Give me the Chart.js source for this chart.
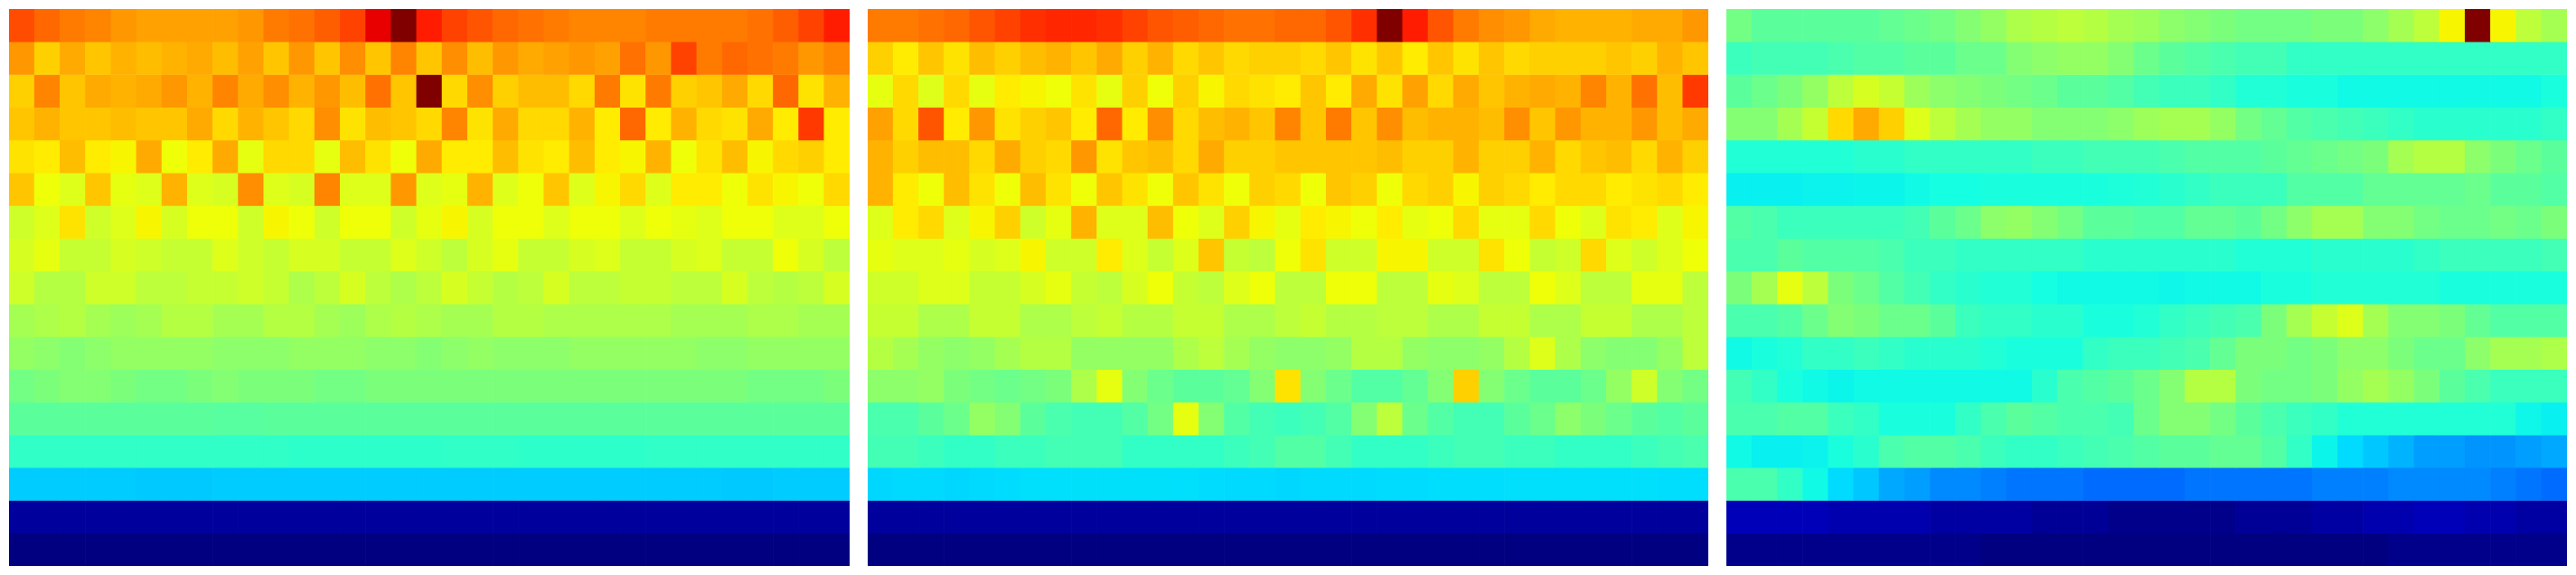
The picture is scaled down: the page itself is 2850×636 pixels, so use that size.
<!DOCTYPE html>
<html>
<head>
<meta charset="utf-8">
<title>Heatmaps</title>
<script src="https://cdn.jsdelivr.net/npm/chart.js@4"></script>
<style>
  html, body { margin: 0; padding: 0; background: #fff; overflow: hidden; }
  canvas { position: absolute; top: 10px; }
</style>
</head>
<body>
<canvas id="heatLeft" width="930" height="616" style="left:10px"></canvas>
<canvas id="heatMiddle" width="930" height="616" style="left:960px"></canvas>
<canvas id="heatRight" width="930" height="616" style="left:1910px"></canvas>
<script>
// cell values in percent of the colour range, top row first
const leftValues = [
  [83,80,78,77,75,74,74,74,74,75,78,79,81,84,91,100,88,84,82,80,79,78,77,77,77,78,78,78,78,79,81,84,88],
  [75,69,73,70,72,71,72,73,71,74,70,75,70,76,70,77,70,76,71,75,73,74,75,74,79,75,84,78,80,79,78,75,77],
  [69,77,70,73,72,73,75,72,77,73,76,72,75,71,79,70,100,68,76,69,71,71,68,78,67,78,69,70,73,68,80,67,72],
  [70,72,70,70,71,70,70,73,68,72,70,68,76,67,71,70,68,77,67,73,68,68,72,66,80,66,72,68,67,73,66,85,66],
  [67,66,71,66,65,73,64,66,73,63,68,68,63,71,67,64,73,66,66,71,67,66,71,66,65,72,64,67,71,65,68,69,66],
  [70,64,62,70,63,62,72,62,61,76,62,61,77,62,62,75,62,63,72,62,64,70,62,65,68,62,66,66,64,67,65,64,68],
  [60,62,67,60,62,65,61,64,64,60,65,64,60,64,64,60,63,65,61,64,64,62,64,64,62,64,63,62,64,64,62,62,64],
  [61,63,59,59,61,60,59,59,62,60,59,61,61,59,59,62,60,58,61,63,59,59,61,62,59,59,61,62,59,59,64,61,58],
  [60,57,57,60,60,58,58,59,59,60,59,56,58,61,58,56,58,61,59,57,58,61,58,58,59,59,58,58,61,58,57,58,61],
  [55,56,57,55,54,55,57,57,55,55,57,57,55,54,56,57,56,55,55,57,57,56,56,56,56,56,55,55,55,56,56,55,55],
  [53,52,51,52,53,53,53,53,52,52,52,53,53,53,52,52,51,52,53,52,52,52,53,53,53,53,53,52,52,53,53,53,53],
  [49,50,51,51,50,49,49,50,51,50,50,50,49,49,50,50,50,50,50,50,50,50,50,50,50,50,50,50,50,49,49,49,50],
  [46,46,46,46,46,46,46,46,45.6,45.6,46,46,46,46,46,46,46,46,46,46,46,46,46,46,46,46,46,46,46,46,46,46,46],
  [40.8,40.8,40.8,40.8,40.8,40.8,40.8,40.8,40.8,40.8,40.8,40.5,40.5,40.5,40.5,40.5,40.5,40.8,40.8,40.8,40.5,40.5,40.5,40.5,40.5,40.8,40.8,40.8,40.8,40.8,40.8,40.8,40.8],
  [32.5,32.5,32.5,32.5,32.5,32.2,32.2,32.2,32.5,32.5,32.5,32.5,32.5,32.5,32.5,32.5,32.5,32.5,32.5,32.5,32.5,32.5,32.5,32.5,32.5,32.5,32.5,32.5,32.2,32.2,32.5,32.5,32.5],
  [2.5,2.5,2.5,2.5,2.5,2.5,2.5,2.5,2.5,2.5,2.5,2.5,2.5,2.5,2.5,2.5,2.5,2.5,2.5,2.5,2.5,2.5,2.5,2.5,2.5,2.5,2.5,2.5,2.5,2.5,2.5,2.5,2.5],
  [0,0,0,0,0,0,0,0,0,0,0,0,0,0,0,0,0,0,0,0,0,0,0,0,0,0,0,0,0,0,0,0,0],
];
const middleValues = [
  [78,78,79,80,82,84,86,87,87,86,84,82,81,80,79,79,80,80,82,86,100,88,82,78,76,75,73,72,72,72,73,73,75],
  [69,66,70,67,71,69,71,72,70,73,69,72,68,70,68,69,69,68,70,67,70,66,70,67,70,68,69,69,69,70,69,72,70],
  [63,68,62,68,63,66,65,64,67,63,69,64,69,65,68,67,66,70,66,73,67,74,68,73,70,72,73,72,77,72,79,71,85],
  [74,68,82,66,75,67,69,70,66,80,66,76,68,71,72,70,77,70,78,70,76,71,72,72,71,76,70,75,72,72,75,71,73],
  [72,69,71,71,68,73,69,68,75,67,70,71,68,73,69,69,70,70,70,70,71,69,69,72,69,69,72,68,70,71,68,72,69],
  [72,66,64,71,67,64,71,67,64,70,67,64,70,67,64,69,68,64,70,69,64,68,69,65,69,68,66,68,68,66,67,68,66],
  [62,66,68,62,65,69,60,63,72,62,62,71,64,62,69,65,63,66,65,64,66,63,64,68,63,63,68,64,62,67,66,62,65],
  [63,62,62,63,61,62,65,60,60,66,62,59,62,70,59,58,64,67,60,60,65,65,60,60,67,64,59,60,68,62,60,62,64],
  [60,60,62,62,59,59,61,63,59,58,61,64,59,58,62,64,58,58,64,64,58,58,63,62,58,58,64,62,58,58,63,63,58],
  [59,59,56,56,59,59,56,56,58,59,57,57,59,59,56,56,58,59,57,57,58,58,56,56,59,59,56,56,59,59,56,56,58],
  [57,55,53,52,53,55,57,57,53,53,53,53,56,58,55,53,52,52,53,57,57,53,52,52,53,57,62,56,52,51,51,53,58],
  [52,52,53,50,49,48,49,50,56,63,51,48,46,46,47,51,67,51,48,45,45,47,51,69,51,48,46,46,48,53,60,51,49],
  [44,44,46,48,53,51,46,44,43,43,45,49,63,51,45,43,42,43,45,51,58,48,45,43,43,46,48,52,50,48,46,45,46],
  [43,43,42,41,41,42,42,43,43,43,41,41,41,41,42,43,45,45,43,41,41,41,42,43,43,42,42,41,41,41,42,43,44],
  [33.6,33.9,33.9,33.6,33.9,34.1,34.4,34.4,34.5,34.5,34.5,34.5,34.4,34.1,33.9,33.9,33.6,33.9,33.9,33.9,34.1,34.1,34.3,34.3,34.3,34.4,34.4,34.4,34.4,34.4,34.4,34.3,34.3],
  [2.5,2.5,2.5,2.5,2.5,2.5,2.5,2.5,2.5,2.5,2.5,2.5,2.5,2.5,2.5,2.5,2.5,2.5,2.5,2.5,2.5,2.5,2.5,2.5,2.5,2.5,2.5,2.5,2.5,2.5,2.5,2.5,2.5],
  [0,0,0,0,0,0,0,0,0,0,0,0,0,0,0,0,0,0,0,0,0,0,0,0,0,0,0,0,0,0,0,0,0],
];
const rightValues = [
  [49,46,46,46,46,46,47,48,49,51,53,56,57,58,57,55,54,52,51,50,49,49,49,50,50,52,55,58,65,100,65,58,55],
  [42,43,43,43,44,45,45,46,46,48,48,51,52,53,53,51,48,46,45,44,43,43,41,41,41,41,41,41,41,41,41,41,41],
  [46,48,50,53,58,61,59,54,52,51,50,49,48,46,46,45,43,42,42,41,39,39,38,38,37,37,37,37,37,37,37,37,38],
  [51,51,55,59,68,73,69,62,58,55,53,53,51,51,51,52,54,55,55,53,49,47,45,44,43,42,41,40,40,40,40,40,41],
  [39,39,39,39,39,40,40,41,41,41,41,41,42,42,43,43,43,44,45,45,45,46,47,48,49,50,55,57,57,52,50,48,46],
  [36,36,36,36.3,36.3,36.5,36.5,37,37.5,37.5,38,38,38,38,38,38.5,39,40,41,42,42,42,45,45,45,47,47,47,47,48,46,46,45],
  [45,44,42,42,42,42,42,43,46,48,52,53,51,49,46,46,45,45,47,47,46,49,52,55,55,51,51,49,48,48,49,48,50],
  [44,44,46,45,45,45,44,42,42,41,41,41,41,41,40,40,40,40,40,40,39,39,39,40,40,40,40,41,42,42,42,42,43],
  [50,55,63,58,50,48,45,43,41,40,39,39,37.5,37,37,37,37,36.7,37,37,37,38,38,39,39,39,39,39,38,38,38,38,38],
  [44,44,45,48,51,50,48,48,46,42,41,41,40,40,38,38,39,41,42,43,44,50,55,59,62,55,51,51,50,47,45,45,45],
  [37,38,39,41,41,42,41,40,40,40,39,38,38,38,41,42,42,43,44,47,50,50,49,50,52,52,50,48,48,52,55,55,56],
  [43,41,38,37,36.5,37,37,37,37,37,37,37,40,44,45,46,48,51,57,57,50,49,49,50,53,55,53,50,46,44,42,42,42],
  [44,44,45,45,42,41,38,38,38,41,44,46,45,44,44,43,48,51,51,49,46,44,42,41,39,39,39,39,39,39,39,36.7,36],
  [37,36,36,36.3,38,40,44,45,45,44,42,41,41,42,43,44,45,46,46,47,47,45,41,36.5,34,32,30,28,28,27,27,28,29],
  [44,44,41,37,34,32,29,28,26,26,25,24,24,24,23,23,23,23,24,24,24,24,24,25,25,25,26,26,26,26,25,24,23],
  [5,5,5,5,4,4,4,4,3,3,3,3,2,2,2,1,1,1,1,1,2,2,2,3,3,4,4,5,5,4,4,3,3],
  [1,1,1,1,1,1,1,1,1,1,0,0,0,0,0,0,0,0,0,0,0,0,0,0,0,0,1,1,1,1,1,1,1],
];
const columns = leftValues[0].map((v, i) => i + 1);

// jet colour map, breakpoints as in matplotlib
function ramp(t, stops) {
  for (let i = 1; i < stops.length; i++) {
    if (t <= stops[i][0]) {
      const [t0, v0] = stops[i - 1];
      const [t1, v1] = stops[i];
      return v0 + ((v1 - v0) * (t - t0)) / (t1 - t0);
    }
  }
  return stops[stops.length - 1][1];
}
function jet(percent) {
  const t = percent / 100;
  const r = ramp(t, [[0, 0], [0.35, 0], [0.66, 1], [0.89, 1], [1, 0.5]]);
  const g = ramp(t, [[0, 0], [0.125, 0], [0.375, 1], [0.64, 1], [0.91, 0], [1, 0]]);
  const b = ramp(t, [[0, 0.5], [0.11, 1], [0.34, 1], [0.65, 0], [1, 0]]);
  return `rgb(${Math.round(r * 255)}, ${Math.round(g * 255)}, ${Math.round(b * 255)})`;
}

function drawHeatmap(id, values) {
  const config = {
    type: "bar",
    data: {
      labels: columns,
      // one stacked dataset per row, each cell is one unit tall
      datasets: values.map((row) => ({
        data: row.map(() => 1),
        backgroundColor: row.map(jet),
        borderWidth: 0,
        barPercentage: 1,
        categoryPercentage: 1,
      })),
    },
    options: {
      responsive: false,
      animation: false,
      events: [],
      layout: { padding: 0 },
      plugins: { legend: { display: false }, tooltip: { enabled: false } },
      scales: {
        x: { stacked: true, display: false },
        y: { stacked: true, display: false, reverse: true, min: 0, max: values.length },
      },
    },
  };
  return new Chart(document.getElementById(id), config);
}

drawHeatmap("heatLeft", leftValues);
drawHeatmap("heatMiddle", middleValues);
drawHeatmap("heatRight", rightValues);
</script>
</body>
</html>
